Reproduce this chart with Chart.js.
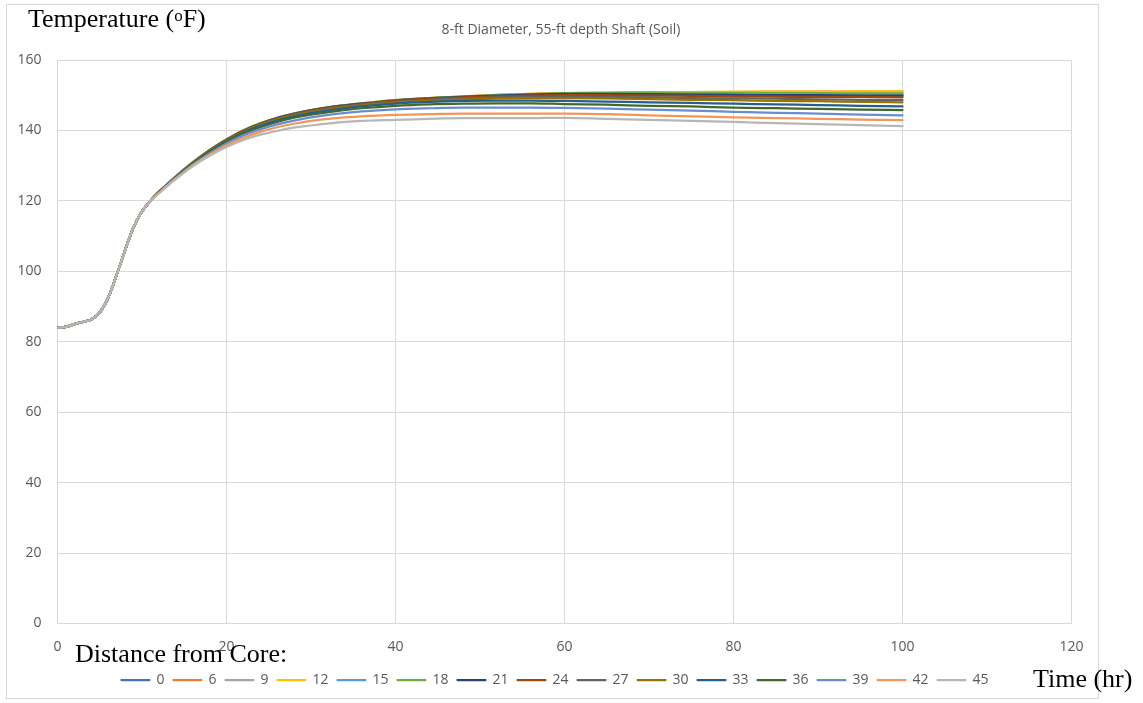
<!DOCTYPE html>
<html>
<head>
<meta charset="utf-8">
<script src="https://cdn.jsdelivr.net/npm/chart.js"></script>
<style>
  html, body { margin: 0; padding: 0; background: #fff; }
  #wrap { width: 1143px; height: 703px; }
</style>
</head>
<body>
<div id="wrap"><canvas id="tempchart" width="1143" height="703"></canvas></div>
<script>
// hours since pour
const hours = [0, 1, 2, 3, 4, 5, 6, 7, 8, 9, 10, 11, 12, 13, 14, 16, 18, 20, 22, 24, 26, 28, 30,
               33, 36, 40, 44, 48, 52, 56, 60, 65, 70, 75, 80, 85, 90, 95, 100];

// distance from core (in) for each sensor
const distances = ['0', '6', '9', '12', '15', '18', '21', '24', '27', '30', '33', '36', '39', '42', '45'];

// temperature (F) per sensor
const temp0  = [84, 84.2, 85, 85.6, 86.3, 88.3, 92.5, 99, 106, 112.5, 117, 120, 122.5, 124.7,
                126.8, 130.8, 134.3, 137.3, 139.9, 141.9, 143.5, 144.7, 145.6, 146.7, 147.5, 148.4, 149.0,
                149.4, 149.8, 150.1, 150.4, 150.3, 150.2, 150.1, 150.0, 149.9, 149.9, 149.8, 149.7];
const temp6  = [84, 84.2, 85, 85.6, 86.3, 88.3, 92.5, 99, 106, 112.5, 117, 120, 122.5, 124.7,
                126.9, 130.9, 134.4, 137.5, 140.0, 142.0, 143.6, 144.8, 145.8, 146.9, 147.7, 148.6, 149.2,
                149.7, 150.1, 150.4, 150.6, 150.7, 150.8, 150.9, 150.9, 151.0, 151.0, 151.1, 151.1];
const temp9  = [84, 84.2, 85, 85.6, 86.3, 88.3, 92.5, 99, 106, 112.5, 117, 120, 122.5, 124.7,
                126.9, 130.9, 134.4, 137.4, 140.0, 142.0, 143.5, 144.8, 145.7, 146.8, 147.6, 148.5, 149.1,
                149.6, 150.0, 150.3, 150.5, 150.6, 150.6, 150.6, 150.6, 150.6, 150.6, 150.6, 150.5];
const temp12 = [84, 84.2, 85, 85.6, 86.3, 88.3, 92.5, 99, 106, 112.5, 117, 120, 122.5, 124.7,
                126.9, 130.9, 134.4, 137.4, 140.0, 142.0, 143.6, 144.8, 145.8, 146.9, 147.7, 148.6, 149.2,
                149.6, 150.1, 150.4, 150.6, 150.7, 150.8, 150.9, 151.0, 151.0, 151.0, 151.1, 151.1];
const temp15 = [84, 84.2, 85, 85.6, 86.3, 88.3, 92.5, 99, 106, 112.5, 117, 120, 122.5, 124.7,
                126.8, 130.8, 134.3, 137.3, 139.9, 141.9, 143.5, 144.7, 145.7, 146.8, 147.6, 148.5, 149.1,
                149.5, 149.9, 150.2, 150.4, 150.4, 150.4, 150.4, 150.4, 150.3, 150.3, 150.3, 150.2];
const temp18 = [84, 84.2, 85, 85.6, 86.3, 88.3, 92.5, 99, 106, 112.5, 117, 120, 122.5, 124.7,
                126.9, 130.9, 134.4, 137.4, 140.0, 142.0, 143.5, 144.8, 145.8, 146.9, 147.7, 148.6, 149.2,
                149.6, 150.0, 150.3, 150.6, 150.7, 150.8, 150.7, 150.7, 150.6, 150.6, 150.5, 150.5];
const temp21 = [84, 84.2, 85, 85.6, 86.3, 88.3, 92.5, 99, 106, 112.5, 117, 120, 122.5, 124.7,
                126.8, 130.8, 134.3, 137.3, 139.9, 141.9, 143.5, 144.7, 145.7, 146.8, 147.6, 148.5, 149.1,
                149.5, 149.9, 150.2, 150.4, 150.4, 150.3, 150.2, 150.1, 150.0, 150.0, 149.9, 149.9];
const temp24 = [84, 84.2, 85, 85.6, 86.3, 88.3, 92.5, 99, 106, 112.5, 117, 120, 122.5, 124.7,
                126.8, 130.8, 134.3, 137.3, 139.8, 141.8, 143.4, 144.6, 145.6, 146.7, 147.5, 148.4, 149.0,
                149.4, 149.7, 149.9, 150.0, 150.0, 149.9, 149.8, 149.7, 149.6, 149.5, 149.5, 149.4];
const temp27 = [84, 84.2, 85, 85.6, 86.3, 88.3, 92.5, 99, 106, 112.5, 117, 120, 122.5, 124.6,
                126.8, 130.7, 134.2, 137.2, 139.7, 141.7, 143.3, 144.5, 145.4, 146.5, 147.3, 148.1, 148.7,
                149.1, 149.4, 149.5, 149.6, 149.5, 149.4, 149.2, 149.1, 149.0, 148.8, 148.7, 148.6];
const temp30 = [84, 84.2, 85, 85.6, 86.3, 88.3, 92.5, 99, 106, 112.5, 117, 120, 122.5, 124.6,
                126.7, 130.7, 134.1, 137.1, 139.6, 141.6, 143.1, 144.3, 145.2, 146.3, 147.1, 147.9, 148.4,
                148.8, 149.1, 149.2, 149.2, 149.1, 148.9, 148.7, 148.6, 148.4, 148.3, 148.1, 148.0];
const temp33 = [84, 84.2, 85, 85.6, 86.3, 88.3, 92.5, 99, 106, 112.5, 117, 120, 122.4, 124.6,
                126.7, 130.6, 134.0, 136.9, 139.4, 141.3, 142.8, 144.0, 144.9, 146.0, 146.8, 147.6, 148.1,
                148.4, 148.5, 148.5, 148.4, 148.2, 148.0, 147.8, 147.6, 147.4, 147.2, 147.0, 146.8];
const temp36 = [84, 84.2, 85, 85.6, 86.3, 88.3, 92.5, 99, 106, 112.5, 117, 120, 122.4, 124.5,
                126.6, 130.5, 133.8, 136.7, 139.1, 140.9, 142.4, 143.6, 144.5, 145.5, 146.3, 147.0, 147.4,
                147.6, 147.7, 147.7, 147.5, 147.3, 147.0, 146.8, 146.5, 146.3, 146.1, 145.9, 145.8];
const temp39 = [84, 84.2, 85, 85.6, 86.3, 88.3, 92.5, 99, 106, 112.5, 117, 120, 122.3, 124.5,
                126.5, 130.3, 133.5, 136.3, 138.6, 140.3, 141.7, 142.8, 143.7, 144.7, 145.4, 146.0, 146.3,
                146.5, 146.5, 146.5, 146.4, 146.2, 145.9, 145.6, 145.3, 145.0, 144.8, 144.5, 144.3];
const temp42 = [84, 84.2, 85, 85.6, 86.3, 88.3, 92.5, 99, 106, 112.5, 117, 120, 122.2, 124.4,
                126.3, 130.0, 133.1, 135.8, 137.9, 139.6, 140.9, 141.9, 142.7, 143.5, 144.0, 144.4, 144.6,
                144.8, 144.8, 144.8, 144.8, 144.6, 144.3, 144.0, 143.7, 143.5, 143.3, 143.1, 142.9];
const temp45 = [84, 84.2, 85, 85.6, 86.3, 88.3, 92.5, 99, 106, 112.5, 117, 120, 122.1, 124.2,
                126.2, 129.8, 132.8, 135.3, 137.3, 138.8, 139.9, 140.8, 141.4, 142.2, 142.7, 143.0, 143.3,
                143.5, 143.5, 143.5, 143.6, 143.3, 143.0, 142.7, 142.4, 142.1, 141.8, 141.5, 141.2];

const allTemps = [temp0, temp6, temp9, temp12, temp15, temp18, temp21, temp24,
                  temp27, temp30, temp33, temp36, temp39, temp42, temp45];

const xTicks = [0, 20, 40, 60, 80, 100, 120];
const yTicks = [0, 20, 40, 60, 80, 100, 120, 140, 160];

const colors = ['#4472C4', '#ED7D31', '#A5A5A5', '#FFC000', '#5B9BD5', '#70AD47', '#264478', '#9E480E',
                '#636363', '#997300', '#255E91', '#43682B', '#698ED0', '#F1975A', '#B7B7B7'];

const gridGray = '#d9d9d9';
const tickGray = '#595959';

let datasets = distances.map((d, i) => ({
    label: d,
    data: hours.map((h, k) => ({ x: h, y: allTemps[i][k] })),
    borderColor: colors[i],
    backgroundColor: colors[i],
    borderWidth: 2.25,
    pointRadius: 0,
    cubicInterpolationMode: 'monotone',
    borderJoinStyle: 'round',
    borderCapStyle: 'round',
    order: distances.length - i   // later sensors drawn on top
}));

// frame, title and the free-floating serif captions
const decorations = {
    id: 'decorations',
    afterLayout(chart) {
        // let the y tick labels spill left of the narrow axis box
        chart.scales.y.left = 0;
    },
    beforeDraw(chart) {
        const ctx = chart.ctx;
        ctx.save();
        ctx.fillStyle = '#ffffff';
        ctx.fillRect(0, 0, chart.width, chart.height);
        ctx.strokeStyle = gridGray;
        ctx.lineWidth = 1;
        ctx.strokeRect(6.5, 4.5, 1092, 694);
        ctx.restore();
    },
    afterDraw(chart) {
        const ctx = chart.ctx;
        ctx.save();
        ctx.fillStyle = tickGray;
        ctx.font = '14px "Open Sans"';
        ctx.textAlign = 'center';
        ctx.textBaseline = 'middle';
        ctx.fillText('8-ft Diameter, 55-ft depth Shaft (Soil)', 561, 30);

        ctx.fillStyle = '#000000';
        ctx.textAlign = 'left';
        ctx.textBaseline = 'alphabetic';
        const big = '26px "Liberation Serif"';
        const sup = '17px "Liberation Serif"';
        let x = 28;
        ctx.font = big;
        ctx.fillText('Temperature (', x, 27);
        x += ctx.measureText('Temperature (').width;
        ctx.font = sup;
        ctx.fillText('o', x, 21);
        x += ctx.measureText('o').width;
        ctx.font = big;
        ctx.fillText('F)', x, 27);

        ctx.fillText('Distance from Core:', 75, 662);
        ctx.fillText('Time (hr)', 1033, 687);
        ctx.restore();
    }
};

let chart1 = document.getElementById('tempchart').getContext('2d');

let TempChart = new Chart(chart1, {
    type: 'line',
    data: { datasets: datasets },
    options: {
        responsive: false,
        animation: false,
        layout: {
            padding: { left: 38.5, right: 71.5, top: 60, bottom: 6 }
        },
        scales: {
            x: {
                type: 'linear',
                min: 0,
                max: 120,
                afterBuildTicks: (s) => { s.ticks = xTicks.map(v => ({ value: v })); },
                afterFit: (s) => { s.height = 40.5; s.paddingLeft = 0; s.paddingRight = 0; },
                grid: { color: gridGray, drawTicks: false },
                border: { color: gridGray },
                ticks: { color: tickGray, padding: 15, font: { family: 'Open Sans', size: 14 } }
            },
            y: {
                min: 0,
                max: 160,
                afterBuildTicks: (s) => { s.ticks = yTicks.map(v => ({ value: v })); },
                afterFit: (s) => { s.width = 19; s.paddingTop = 0; s.paddingBottom = 0; },
                grid: { color: gridGray, drawTicks: false },
                border: { color: gridGray },
                ticks: { color: tickGray, padding: 16, font: { family: 'Open Sans', size: 14 } }
            }
        },
        plugins: {
            legend: {
                display: true,
                position: 'bottom',
                labels: {
                    boxWidth: 28,
                    boxHeight: 0,
                    padding: 9,
                    color: tickGray,
                    font: { family: 'Open Sans', size: 14 },
                    sort: (a, b) => a.datasetIndex - b.datasetIndex
                }
            },
            title: { display: false },
            tooltip: { enabled: false }
        }
    },
    plugins: [decorations]
});
</script>
</body>
</html>
